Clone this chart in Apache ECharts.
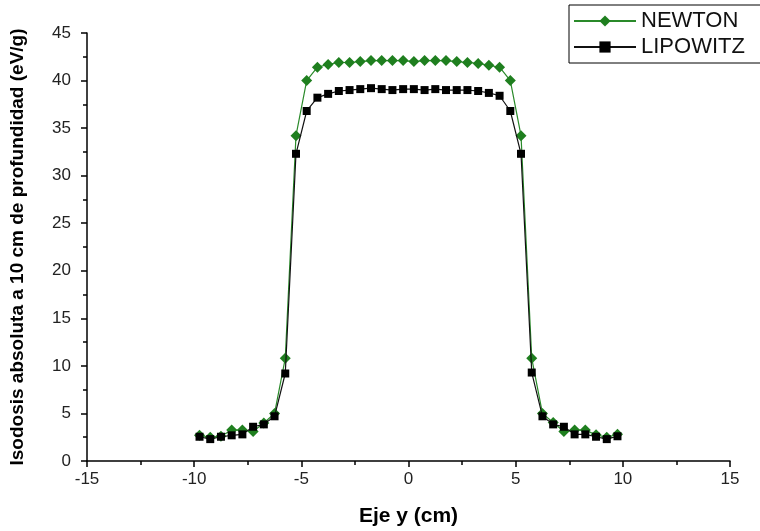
<!DOCTYPE html>
<html>
<head>
<meta charset="utf-8">
<script src="https://cdn.jsdelivr.net/npm/echarts@6/dist/echarts.min.js"></script>
<style>
  html, body { margin: 0; padding: 0; background: #fff; }
  #chart { width: 760px; height: 531px; }
</style>
</head>
<body>
<div id="chart"></div>
<script>
// posiciones (cm) sobre el eje y
var posY = [-9.75, -9.25, -8.75, -8.25, -7.75, -7.25, -6.75, -6.25, -5.75, -5.25,
            -4.75, -4.25, -3.75, -3.25, -2.75, -2.25, -1.75, -1.25, -0.75, -0.25,
            0.25, 0.75, 1.25, 1.75, 2.25, 2.75, 3.25, 3.75, 4.25, 4.75,
            5.25, 5.75, 6.25, 6.75, 7.25, 7.75, 8.25, 8.75, 9.25, 9.75];

var newton = [2.7, 2.5, 2.6, 3.25, 3.25, 3.1, 4.0, 5.0, 10.8, 34.2,
              40.0, 41.4, 41.7, 41.9, 41.9, 42.0, 42.1, 42.1, 42.1, 42.1,
              42.0, 42.1, 42.1, 42.1, 42.0, 41.9, 41.8, 41.6, 41.4, 40.0,
              34.2, 10.8, 5.0, 4.05, 3.1, 3.25, 3.25, 2.75, 2.5, 2.8];

var lipowitz = [2.55, 2.3, 2.55, 2.7, 2.8, 3.6, 3.85, 4.7, 9.2, 32.3,
                36.8, 38.2, 38.6, 38.9, 39.0, 39.1, 39.2, 39.1, 39.0, 39.1,
                39.1, 39.0, 39.1, 39.0, 39.0, 39.0, 38.9, 38.7, 38.4, 36.8,
                32.3, 9.3, 4.7, 3.85, 3.6, 2.8, 2.8, 2.55, 2.3, 2.6];

var xTicks = { min: -15, max: 15, interval: 5 };
var yTicks = { min: 0, max: 45, interval: 5 };

function pairs(xs, ys) {
    return xs.map(function (x, i) { return [x, ys[i]]; });
}

var font = 'Liberation Sans';
var chart = echarts.init(document.getElementById('chart'));
chart.setOption({
    animation: false,
    backgroundColor: '#fff',
    grid: {
        left: 87,
        right: 30,
        top: 33,
        bottom: 70,
        outerBoundsMode: 'none'
    },
    legend: {
        orient: 'vertical',
        left: 569,
        top: 5,
        padding: [5, 20, 5, 4],
        itemWidth: 62,
        itemHeight: 14,
        itemGap: 4,
        borderColor: '#000',
        borderWidth: 1,
        textStyle: { fontFamily: font, fontSize: 22, color: '#111' },
        data: ['NEWTON', 'LIPOWITZ']
    },
    xAxis: {
        type: 'value',
        min: xTicks.min,
        max: xTicks.max,
        interval: xTicks.interval,
        name: 'Eje y (cm)',
        nameLocation: 'middle',
        nameGap: 45,
        nameTextStyle: { fontFamily: font, fontSize: 21, fontWeight: 'bold', color: '#000' },
        axisLine: { onZero: false, lineStyle: { color: '#000', width: 1.5 } },
        axisTick: { inside: false, length: 6, lineStyle: { color: '#000', width: 1.5 } },
        minorTick: { show: true, splitNumber: 2, length: 4, lineStyle: { color: '#000', width: 1.5 } },
        axisLabel: { fontFamily: font, fontSize: 17, color: '#222', margin: 10 },
        splitLine: { show: false }
    },
    yAxis: {
        type: 'value',
        min: yTicks.min,
        max: yTicks.max,
        interval: yTicks.interval,
        name: 'Isodosis absoluta a 10 cm de profundidad (eV/g)',
        nameLocation: 'middle',
        nameGap: 60,
        nameTextStyle: { fontFamily: font, fontSize: 19, fontWeight: 'bold', color: '#000' },
        axisLine: { show: true, onZero: false, lineStyle: { color: '#000', width: 1.5 } },
        axisTick: { show: true, inside: false, length: 6, lineStyle: { color: '#000', width: 1.5 } },
        minorTick: { show: true, splitNumber: 2, length: 4, lineStyle: { color: '#000', width: 1.5 } },
        axisLabel: { fontFamily: font, fontSize: 17, color: '#222', margin: 16 },
        splitLine: { show: false }
    },
    series: [
        {
            name: 'NEWTON',
            type: 'line',
            data: pairs(posY, newton),
            symbol: 'diamond',
            symbolSize: 11,
            itemStyle: { color: '#1f7f1f' },
            lineStyle: { color: '#2a8a2a', width: 1.2 },
            z: 2
        },
        {
            name: 'LIPOWITZ',
            type: 'line',
            data: pairs(posY, lipowitz),
            symbol: 'rect',
            symbolSize: 8,
            itemStyle: { color: '#000' },
            lineStyle: { color: '#111', width: 1.2 },
            z: 3
        }
    ]
});
</script>
</body>
</html>
